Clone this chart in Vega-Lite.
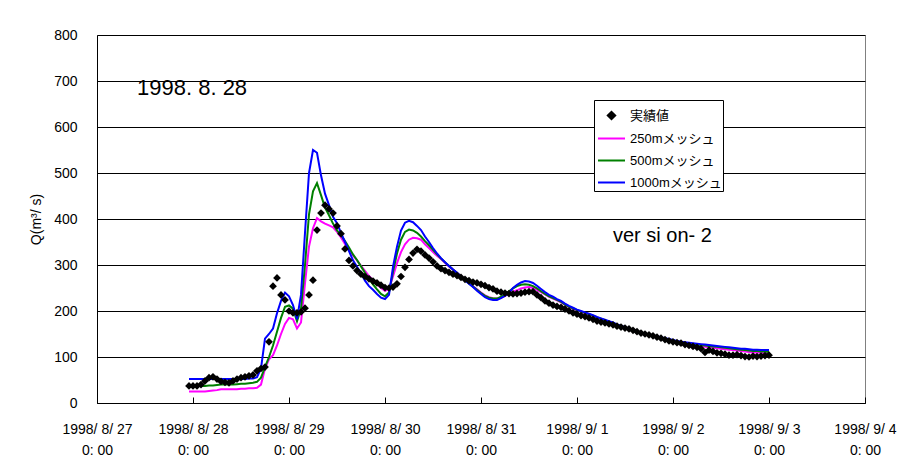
{
"$schema": "https://vega.github.io/schema/vega-lite/v6.json",
"width": 768, "height": 368,
"autosize": "none",
"padding": {"left": 97, "top": 35, "right": 55, "bottom": 61},
"background": "white",
"config": {"font": "Liberation Sans, Noto Sans CJK JP", "view": {"stroke": "#808080", "strokeWidth": 1}},
"data": {"values": [
{"t":"1998-08-27T23:00","obs":37,"m250":25,"m500":37,"m1000":52},
{"t":"1998-08-28T00:00","obs":37,"m250":25,"m500":37,"m1000":52},
{"t":"1998-08-28T01:00","obs":37,"m250":25,"m500":37,"m1000":52},
{"t":"1998-08-28T02:00","obs":40,"m250":25,"m500":37,"m1000":52},
{"t":"1998-08-28T03:00","obs":48,"m250":25,"m500":37,"m1000":52},
{"t":"1998-08-28T04:00","obs":55,"m250":26,"m500":38,"m1000":52},
{"t":"1998-08-28T05:00","obs":57,"m250":27,"m500":38,"m1000":52},
{"t":"1998-08-28T06:00","obs":52,"m250":28,"m500":39,"m1000":52},
{"t":"1998-08-28T07:00","obs":47,"m250":30,"m500":40,"m1000":52},
{"t":"1998-08-28T08:00","obs":45,"m250":30,"m500":40,"m1000":52},
{"t":"1998-08-28T09:00","obs":44,"m250":30,"m500":40,"m1000":52},
{"t":"1998-08-28T10:00","obs":48,"m250":30,"m500":40,"m1000":52},
{"t":"1998-08-28T11:00","obs":52,"m250":30,"m500":41,"m1000":52},
{"t":"1998-08-28T12:00","obs":55,"m250":31,"m500":42,"m1000":52},
{"t":"1998-08-28T13:00","obs":57,"m250":31,"m500":42,"m1000":52},
{"t":"1998-08-28T14:00","obs":59,"m250":32,"m500":43,"m1000":53},
{"t":"1998-08-28T15:00","obs":61,"m250":32,"m500":44,"m1000":53},
{"t":"1998-08-28T16:00","obs":70,"m250":33,"m500":46,"m1000":56},
{"t":"1998-08-28T17:00","obs":75,"m250":40,"m500":55,"m1000":75},
{"t":"1998-08-28T18:00","obs":78,"m250":75,"m500":78,"m1000":140},
{"t":"1998-08-28T19:00","obs":133,"m250":95,"m500":100,"m1000":150},
{"t":"1998-08-28T20:00","obs":254,"m250":104,"m500":125,"m1000":162},
{"t":"1998-08-28T21:00","obs":272,"m250":125,"m500":155,"m1000":195},
{"t":"1998-08-28T22:00","obs":235,"m250":150,"m500":185,"m1000":222},
{"t":"1998-08-28T23:00","obs":224,"m250":172,"m500":209,"m1000":240},
{"t":"1998-08-29T00:00","obs":200,"m250":185,"m500":212,"m1000":232},
{"t":"1998-08-29T01:00","obs":196,"m250":182,"m500":205,"m1000":213},
{"t":"1998-08-29T02:00","obs":196,"m250":162,"m500":178,"m1000":182},
{"t":"1998-08-29T03:00","obs":198,"m250":175,"m500":205,"m1000":235},
{"t":"1998-08-29T04:00","obs":206,"m250":260,"m500":300,"m1000":370},
{"t":"1998-08-29T05:00","obs":235,"m250":340,"m500":410,"m1000":500},
{"t":"1998-08-29T06:00","obs":267,"m250":380,"m500":460,"m1000":550},
{"t":"1998-08-29T07:00","obs":376,"m250":402,"m500":478,"m1000":544},
{"t":"1998-08-29T08:00","obs":413,"m250":395,"m500":452,"m1000":495},
{"t":"1998-08-29T09:00","obs":430,"m250":390,"m500":425,"m1000":455},
{"t":"1998-08-29T10:00","obs":422,"m250":386,"m500":408,"m1000":430},
{"t":"1998-08-29T11:00","obs":413,"m250":382,"m500":390,"m1000":405},
{"t":"1998-08-29T12:00","obs":385,"m250":372,"m500":375,"m1000":391},
{"t":"1998-08-29T13:00","obs":368,"m250":360,"m500":365,"m1000":370},
{"t":"1998-08-29T14:00","obs":335,"m250":346,"m500":352,"m1000":350},
{"t":"1998-08-29T15:00","obs":310,"m250":333,"m500":338,"m1000":330},
{"t":"1998-08-29T16:00","obs":298,"m250":321,"m500":323,"m1000":310},
{"t":"1998-08-29T17:00","obs":288,"m250":310,"m500":311,"m1000":296},
{"t":"1998-08-29T18:00","obs":280,"m250":298,"m500":297,"m1000":282},
{"t":"1998-08-29T19:00","obs":275,"m250":287,"m500":283,"m1000":266},
{"t":"1998-08-29T20:00","obs":270,"m250":276,"m500":270,"m1000":254},
{"t":"1998-08-29T21:00","obs":265,"m250":267,"m500":258,"m1000":246},
{"t":"1998-08-29T22:00","obs":261,"m250":258,"m500":247,"m1000":237},
{"t":"1998-08-29T23:00","obs":256,"m250":250,"m500":237,"m1000":229},
{"t":"1998-08-30T00:00","obs":251,"m250":244,"m500":232,"m1000":226},
{"t":"1998-08-30T01:00","obs":250,"m250":248,"m500":240,"m1000":235},
{"t":"1998-08-30T02:00","obs":252,"m250":275,"m500":285,"m1000":296},
{"t":"1998-08-30T03:00","obs":259,"m250":304,"m500":325,"m1000":340},
{"t":"1998-08-30T04:00","obs":275,"m250":328,"m500":355,"m1000":375},
{"t":"1998-08-30T05:00","obs":295,"m250":345,"m500":372,"m1000":392},
{"t":"1998-08-30T06:00","obs":312,"m250":355,"m500":377,"m1000":396},
{"t":"1998-08-30T07:00","obs":326,"m250":359,"m500":375,"m1000":393},
{"t":"1998-08-30T08:00","obs":334,"m250":358,"m500":370,"m1000":385},
{"t":"1998-08-30T09:00","obs":330,"m250":355,"m500":362,"m1000":376},
{"t":"1998-08-30T10:00","obs":322,"m250":345,"m500":352,"m1000":362},
{"t":"1998-08-30T11:00","obs":315,"m250":337,"m500":343,"m1000":350},
{"t":"1998-08-30T12:00","obs":307,"m250":328,"m500":333,"m1000":337},
{"t":"1998-08-30T13:00","obs":298,"m250":320,"m500":323,"m1000":325},
{"t":"1998-08-30T14:00","obs":292,"m250":313,"m500":314,"m1000":315},
{"t":"1998-08-30T15:00","obs":288,"m250":305,"m500":306,"m1000":306},
{"t":"1998-08-30T16:00","obs":284,"m250":297,"m500":298,"m1000":298},
{"t":"1998-08-30T17:00","obs":280,"m250":290,"m500":290,"m1000":290},
{"t":"1998-08-30T18:00","obs":277,"m250":283,"m500":283,"m1000":283},
{"t":"1998-08-30T19:00","obs":273,"m250":276,"m500":275,"m1000":275},
{"t":"1998-08-30T20:00","obs":269,"m250":268,"m500":267,"m1000":267},
{"t":"1998-08-30T21:00","obs":266,"m250":261,"m500":260,"m1000":259},
{"t":"1998-08-30T22:00","obs":263,"m250":254,"m500":253,"m1000":252},
{"t":"1998-08-30T23:00","obs":261,"m250":247,"m500":246,"m1000":244},
{"t":"1998-08-31T00:00","obs":258,"m250":240,"m500":239,"m1000":237},
{"t":"1998-08-31T01:00","obs":255,"m250":234,"m500":233,"m1000":230},
{"t":"1998-08-31T02:00","obs":251,"m250":230,"m500":229,"m1000":226},
{"t":"1998-08-31T03:00","obs":248,"m250":228,"m500":227,"m1000":224},
{"t":"1998-08-31T04:00","obs":243,"m250":227,"m500":227,"m1000":224},
{"t":"1998-08-31T05:00","obs":241,"m250":229,"m500":231,"m1000":228},
{"t":"1998-08-31T06:00","obs":239,"m250":233,"m500":237,"m1000":233},
{"t":"1998-08-31T07:00","obs":238,"m250":238,"m500":243,"m1000":240},
{"t":"1998-08-31T08:00","obs":237,"m250":242,"m500":249,"m1000":250},
{"t":"1998-08-31T09:00","obs":238,"m250":245,"m500":254,"m1000":257},
{"t":"1998-08-31T10:00","obs":239,"m250":249,"m500":257,"m1000":262},
{"t":"1998-08-31T11:00","obs":241,"m250":251,"m500":258,"m1000":265},
{"t":"1998-08-31T12:00","obs":242,"m250":252,"m500":257,"m1000":264},
{"t":"1998-08-31T13:00","obs":242,"m250":250,"m500":254,"m1000":261},
{"t":"1998-08-31T14:00","obs":235,"m250":246,"m500":249,"m1000":255},
{"t":"1998-08-31T15:00","obs":229,"m250":241,"m500":243,"m1000":248},
{"t":"1998-08-31T16:00","obs":222,"m250":236,"m500":237,"m1000":241},
{"t":"1998-08-31T17:00","obs":217,"m250":231,"m500":232,"m1000":235},
{"t":"1998-08-31T18:00","obs":213,"m250":227,"m500":228,"m1000":231},
{"t":"1998-08-31T19:00","obs":210,"m250":223,"m500":224,"m1000":226},
{"t":"1998-08-31T20:00","obs":208,"m250":219,"m500":220,"m1000":222},
{"t":"1998-08-31T21:00","obs":204,"m250":213,"m500":214,"m1000":216},
{"t":"1998-08-31T22:00","obs":200,"m250":208,"m500":209,"m1000":211},
{"t":"1998-08-31T23:00","obs":196,"m250":205,"m500":206,"m1000":207},
{"t":"1998-09-01T00:00","obs":193,"m250":201,"m500":202,"m1000":203},
{"t":"1998-09-01T01:00","obs":190,"m250":198,"m500":199,"m1000":200},
{"t":"1998-09-01T02:00","obs":188,"m250":195,"m500":196,"m1000":197},
{"t":"1998-09-01T03:00","obs":185,"m250":192,"m500":193,"m1000":194},
{"t":"1998-09-01T04:00","obs":182,"m250":189,"m500":190,"m1000":191},
{"t":"1998-09-01T05:00","obs":178,"m250":185,"m500":186,"m1000":187},
{"t":"1998-09-01T06:00","obs":176,"m250":182,"m500":183,"m1000":184},
{"t":"1998-09-01T07:00","obs":174,"m250":179,"m500":180,"m1000":181},
{"t":"1998-09-01T08:00","obs":172,"m250":176,"m500":177,"m1000":178},
{"t":"1998-09-01T09:00","obs":170,"m250":173,"m500":174,"m1000":175},
{"t":"1998-09-01T10:00","obs":167,"m250":169,"m500":170,"m1000":171},
{"t":"1998-09-01T11:00","obs":165,"m250":166,"m500":167,"m1000":168},
{"t":"1998-09-01T12:00","obs":163,"m250":163,"m500":164,"m1000":165},
{"t":"1998-09-01T13:00","obs":161,"m250":160,"m500":161,"m1000":162},
{"t":"1998-09-01T14:00","obs":158,"m250":157,"m500":158,"m1000":159},
{"t":"1998-09-01T15:00","obs":155,"m250":154,"m500":155,"m1000":156},
{"t":"1998-09-01T16:00","obs":152,"m250":151,"m500":152,"m1000":153},
{"t":"1998-09-01T17:00","obs":150,"m250":149,"m500":150,"m1000":151},
{"t":"1998-09-01T18:00","obs":148,"m250":147,"m500":148,"m1000":149},
{"t":"1998-09-01T19:00","obs":146,"m250":145,"m500":146,"m1000":147},
{"t":"1998-09-01T20:00","obs":143,"m250":143,"m500":144,"m1000":145},
{"t":"1998-09-01T21:00","obs":141,"m250":141,"m500":142,"m1000":143},
{"t":"1998-09-01T22:00","obs":138,"m250":139,"m500":140,"m1000":141},
{"t":"1998-09-01T23:00","obs":135,"m250":137,"m500":138,"m1000":139},
{"t":"1998-09-02T00:00","obs":133,"m250":135,"m500":136,"m1000":137},
{"t":"1998-09-02T01:00","obs":131,"m250":133,"m500":134,"m1000":135},
{"t":"1998-09-02T02:00","obs":130,"m250":131,"m500":132,"m1000":133},
{"t":"1998-09-02T03:00","obs":127,"m250":129,"m500":130,"m1000":132},
{"t":"1998-09-02T04:00","obs":125,"m250":127,"m500":129,"m1000":131},
{"t":"1998-09-02T05:00","obs":123,"m250":125,"m500":128,"m1000":130},
{"t":"1998-09-02T06:00","obs":121,"m250":124,"m500":127,"m1000":129},
{"t":"1998-09-02T07:00","obs":118,"m250":123,"m500":126,"m1000":128},
{"t":"1998-09-02T08:00","obs":110,"m250":122,"m500":125,"m1000":127},
{"t":"1998-09-02T09:00","obs":115,"m250":121,"m500":124,"m1000":126},
{"t":"1998-09-02T10:00","obs":112,"m250":120,"m500":123,"m1000":125},
{"t":"1998-09-02T11:00","obs":109,"m250":119,"m500":122,"m1000":124},
{"t":"1998-09-02T12:00","obs":108,"m250":118,"m500":121,"m1000":123},
{"t":"1998-09-02T13:00","obs":106,"m250":117,"m500":120,"m1000":122},
{"t":"1998-09-02T14:00","obs":104,"m250":116,"m500":119,"m1000":121},
{"t":"1998-09-02T15:00","obs":104,"m250":115,"m500":118,"m1000":120},
{"t":"1998-09-02T16:00","obs":105,"m250":114,"m500":117,"m1000":119},
{"t":"1998-09-02T17:00","obs":103,"m250":113,"m500":116,"m1000":118},
{"t":"1998-09-02T18:00","obs":101,"m250":112,"m500":115,"m1000":118},
{"t":"1998-09-02T19:00","obs":100,"m250":111,"m500":114,"m1000":117},
{"t":"1998-09-02T20:00","obs":102,"m250":110,"m500":113,"m1000":116},
{"t":"1998-09-02T21:00","obs":101,"m250":110,"m500":113,"m1000":116},
{"t":"1998-09-02T22:00","obs":102,"m250":109,"m500":112,"m1000":115},
{"t":"1998-09-02T23:00","obs":103,"m250":108,"m500":112,"m1000":115},
{"t":"1998-09-03T00:00","obs":104,"m250":108,"m500":111,"m1000":115}
]},
"layer": [
{
"transform": [{"fold": ["m250","m500","m1000"], "as": ["series","q"]}],
"mark": {"type": "line", "strokeWidth": 2},
"encoding": {
"x": {"field": "t", "type": "temporal",
 "scale": {"domain": [{"year":1998,"month":8,"date":27},{"year":1998,"month":9,"date":4}]},
 "axis": {"title": null, "grid": false,
  "values": [{"year":1998,"month":8,"date":27},{"year":1998,"month":8,"date":28},{"year":1998,"month":8,"date":29},{"year":1998,"month":8,"date":30},{"year":1998,"month":8,"date":31},{"year":1998,"month":9,"date":1},{"year":1998,"month":9,"date":2},{"year":1998,"month":9,"date":3},{"year":1998,"month":9,"date":4}],
  "labelExpr": "[timeFormat(datum.value, '%Y/ %-m/ %-d'), '0: 00']",
  "tickSize": -6, "tickColor": "black", "domainColor": "black",
  "labelFontSize": 14, "labelColor": "black", "labelPadding": 25, "labelLineHeight": 21,
  "labelOverlap": false, "labelFlush": false}},
"y": {"field": "q", "type": "quantitative",
 "scale": {"domain": [0, 800], "nice": false},
 "axis": {"title": "Q(m³/ s)", "values": [0,100,200,300,400,500,600,700,800],
  "ticks": false, "labelPadding": 20, "labelFontSize": 14, "labelColor": "black",
  "grid": true, "gridColor": "black", "gridWidth": 1, "domainColor": "black",
  "titleFontSize": 14, "titleFontWeight": "normal", "titleColor": "black", "titlePadding": 10}},
"color": {"field": "series", "type": "nominal",
 "scale": {"domain": ["obs","m250","m500","m1000"], "range": ["#000000","#FF00FF","#008000","#0000FF"]},
 "legend": {"title": null, "orient": "none", "legendX": 497, "legendY": 65,
  "padding": 1, "strokeColor": "black", "fillColor": "white",
  "symbolSize": 729, "symbolStrokeWidth": 2, "symbolOffset": 2,
  "labelFontSize": 13, "labelColor": "black", "labelOffset": 4, "rowPadding": -9,
  "labelExpr": "datum.value === 'obs' ? '実績値' : datum.value === 'm250' ? '250mメッシュ' : datum.value === 'm500' ? '500mメッシュ' : '1000mメッシュ'",
  "encode": {"symbols": {"update": {
   "shape": {"signal": "datum.value === 'obs' ? 'diamond' : 'stroke'"},
   "size": {"signal": "datum.value === 'obs' ? 55 : 729"},
   "fill": {"signal": "datum.value === 'obs' ? 'black' : 'transparent'"},
   "stroke": {"signal": "datum.value === 'obs' ? 'transparent' : scale('color', datum.value)"},
   "strokeWidth": {"value": 2},
   "opacity": {"value": 1}}}}}}
}
},
{
"transform": [{"fold": ["obs"], "as": ["series","q"]}],
"mark": {"type": "point", "shape": "diamond", "filled": true, "size": 60, "opacity": 1},
"encoding": {
"x": {"field": "t", "type": "temporal"},
"y": {"field": "q", "type": "quantitative"},
"color": {"field": "series", "type": "nominal"}
}
},
{
"data": {"values": [{"t": "1998-08-27T10:00", "q": 685, "label": "1998. 8. 28"}]},
"mark": {"type": "text", "align": "left", "baseline": "middle", "fontSize": 22, "color": "black"},
"encoding": {"x": {"field": "t", "type": "temporal"}, "y": {"field": "q", "type": "quantitative"}, "text": {"field": "label"}}
},
{
"data": {"values": [{"t": "1998-09-01T09:00", "q": 363, "label": "ver si on- 2"}]},
"mark": {"type": "text", "align": "left", "baseline": "middle", "fontSize": 20, "color": "black"},
"encoding": {"x": {"field": "t", "type": "temporal"}, "y": {"field": "q", "type": "quantitative"}, "text": {"field": "label"}}
}
]
}
